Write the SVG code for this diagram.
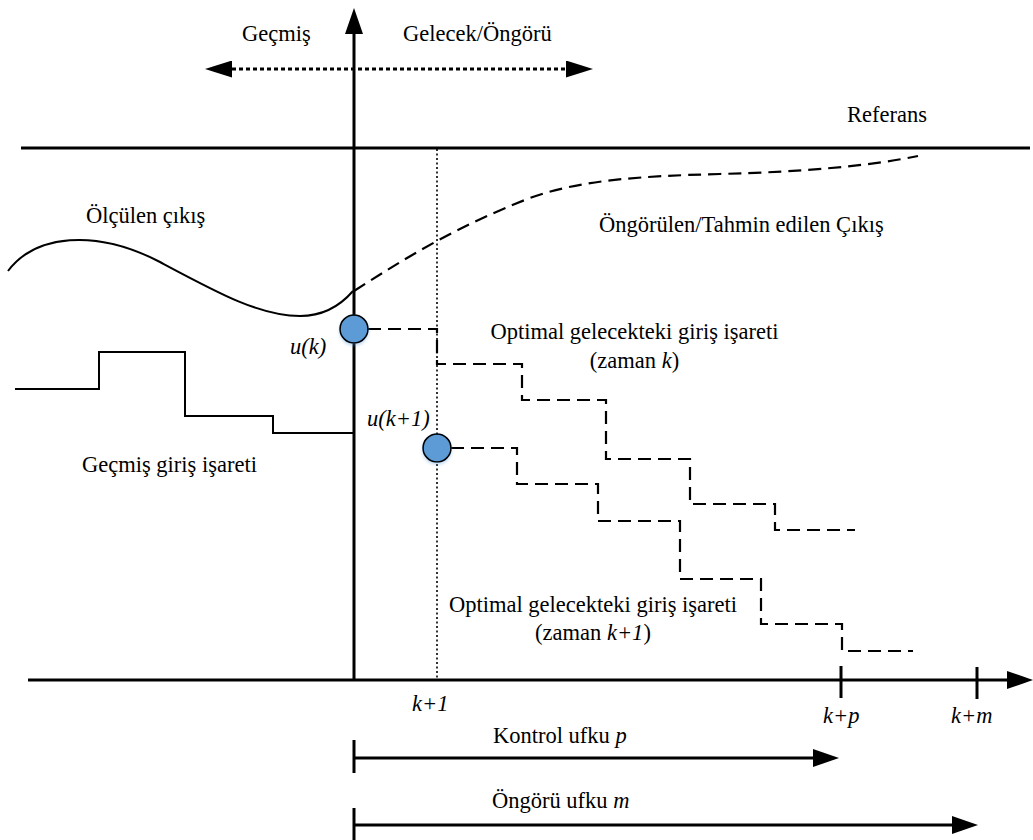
<svg xmlns="http://www.w3.org/2000/svg" width="1033" height="840" viewBox="0 0 1033 840">
  <style>
    text { font-family: "Liberation Serif", "Times New Roman", serif; font-size: 22.5px; fill: #000; }
    .it { font-style: italic; }
    .axis { stroke: #000; stroke-width: 3; fill: none; }
    .thin { stroke: #000; stroke-width: 2; fill: none; }
    .dash { stroke: #000; stroke-width: 2.2; fill: none; stroke-dasharray: 13 7; }
    .dot { stroke: #000; stroke-width: 1.6; fill: none; stroke-dasharray: 2 2.5; }
    .dotbold { stroke: #000; stroke-width: 3; fill: none; stroke-dasharray: 4 3; }
    .node { fill: #5b9bd5; stroke: #000; stroke-width: 1.6; }
  </style>
  <defs>
    <marker id="arrow" markerUnits="userSpaceOnUse" markerWidth="26" markerHeight="18" viewBox="0 0 26 18" refX="0" refY="9" orient="auto-start-reverse">
      <path d="M0,0 L26,9 L0,18 z" fill="#000"/>
    </marker>
    <marker id="arrowSm" markerUnits="userSpaceOnUse" markerWidth="27" markerHeight="17" viewBox="0 0 27 17" refX="0" refY="8.5" orient="auto-start-reverse">
      <path d="M0,0 L27,8.5 L0,17 z" fill="#000"/>
    </marker>
    <filter id="shadow" x="-50%" y="-50%" width="200%" height="200%">
      <feGaussianBlur in="SourceAlpha" stdDeviation="1.5"/>
      <feOffset dx="0" dy="2" result="b"/>
      <feFlood flood-color="#5b9bd5" flood-opacity="0.35"/>
      <feComposite in2="b" operator="in"/>
      <feMerge><feMergeNode/><feMergeNode in="SourceGraphic"/></feMerge>
    </filter>
  </defs>

  <!-- axes, reference level and time markers -->
  <g id="connectors">
    <line class="axis" x1="28" y1="680" x2="1007" y2="680" marker-end="url(#arrow)"/>
    <line class="axis" x1="354" y1="681" x2="354" y2="34" marker-end="url(#arrow)"/>
    <line class="axis" x1="21" y1="148" x2="1030" y2="148"/>
    <line class="dot" x1="437" y1="149" x2="437" y2="679"/>
    <line class="dotbold" x1="232" y1="69" x2="566" y2="69" marker-start="url(#arrowSm)" marker-end="url(#arrowSm)"/>

    <!-- ticks on the time axis -->
    <line class="axis" x1="841" y1="666" x2="841" y2="698"/>
    <line class="axis" x1="977" y1="667" x2="977" y2="699"/>

    <!-- horizon arrows -->
    <line class="axis" x1="354" y1="740" x2="354" y2="773"/>
    <line class="axis" x1="354" y1="758" x2="813" y2="758" marker-end="url(#arrow)"/>
    <line class="axis" x1="354" y1="808" x2="354" y2="840"/>
    <line class="axis" x1="354" y1="825" x2="952" y2="825" marker-end="url(#arrow)"/>

    <!-- measured output -->
    <path class="thin" d="M8,271 C35,235 95,228 160,262 C218,293 260,316 300,316 C322,316 340,306 353,291"/>
    <!-- predicted output -->
    <path class="dash" d="M354,291 C410,255 460,225 530,198 C580,180 640,176 720,174 C800,172 870,166 918,156"/>

    <!-- past input -->
    <path class="thin" d="M15,389 H99 V352 H185 V416 H273 V433 H354"/>

    <!-- optimal future input at time k -->
    <path class="dash" d="M368,329 H437 V364 H522 V400 H606 V459 H690 V504 H775 V530 H855"/>
    <!-- optimal future input at time k+1 -->
    <path class="dash" d="M451,448 H517 V484 H598 V521 H680 V579 H761 V624 H842 V651 H913"/>
  </g>

  <g id="node-uk">
    <circle class="node" cx="354" cy="329" r="14" filter="url(#shadow)"/>
    <text class="it" x="290" y="354">u(k)</text>
  </g>
  <g id="node-uk1">
    <circle class="node" cx="437" cy="448" r="14" filter="url(#shadow)"/>
    <text class="it" x="367" y="426">u(k+1)</text>
  </g>

  <g id="labels">
    <text x="242" y="41">Geçmiş</text>
    <text x="403" y="41">Gelecek/Öngörü</text>
    <text x="847" y="122">Referans</text>
    <text x="86" y="223">Ölçülen çıkış</text>
    <text x="599" y="232">Öngörülen/Tahmin edilen Çıkış</text>
    <text x="634.5" y="339" text-anchor="middle">Optimal gelecekteki giriş işareti</text>
    <text x="634.5" y="368" text-anchor="middle">(zaman <tspan class="it">k</tspan>)</text>
    <text x="82" y="472">Geçmiş giriş işareti</text>
    <text x="593" y="612" text-anchor="middle">Optimal gelecekteki giriş işareti</text>
    <text x="593" y="640" text-anchor="middle">(zaman <tspan class="it">k+1</tspan>)</text>
    <text class="it" x="412" y="711">k+1</text>
    <text class="it" x="823" y="723">k+p</text>
    <text class="it" x="951" y="723">k+m</text>
    <text x="493" y="743">Kontrol ufku <tspan class="it">p</tspan></text>
    <text x="492" y="808">Öngörü ufku <tspan class="it">m</tspan></text>
  </g>
</svg>
